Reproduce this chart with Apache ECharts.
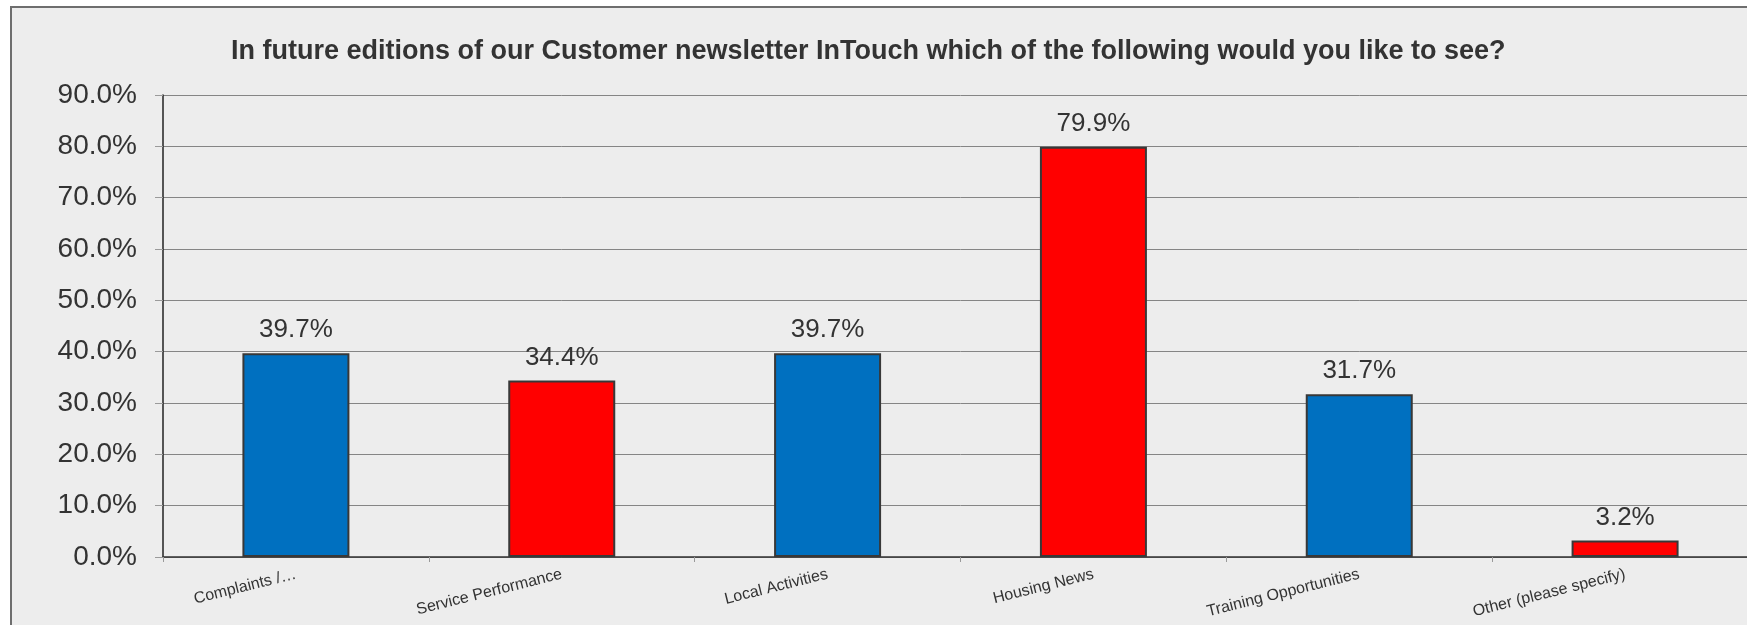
<!DOCTYPE html>
<html>
<head>
<meta charset="utf-8">
<title>InTouch newsletter survey</title>
<script src="https://cdn.jsdelivr.net/npm/echarts@6/dist/echarts.min.js"></script>
<style>
  html, body { margin: 0; padding: 0; background: #ffffff; overflow: hidden; }
  /* the plot area runs slightly past the right edge of the window */
  #chart { width: 1762px; height: 625px; }
</style>
</head>
<body>
<div id="chart"></div>
<script>
// Survey answers: share of respondents choosing each topic
const categories = [
  'Complaints /\u2026',
  'Service Performance',
  'Local Activities',
  'Housing News',
  'Training Opportunities',
  'Other (please specify)'
];
const percentages = [39.7, 34.4, 39.7, 79.9, 31.7, 3.2];
const barColors = ['#0070C0', '#FF0000', '#0070C0', '#FF0000', '#0070C0', '#FF0000'];
const yTicks = { min: 0, max: 90, step: 10 };
const titleText = 'In future editions of our Customer newsletter InTouch which of the following would you like to see?';

const FONT = '"Liberation Sans", Arial, Helvetica, sans-serif';
const TEXT = '#333333';

const chart = echarts.init(document.getElementById('chart'), null, { renderer: 'canvas' });

chart.setOption({
  animation: false,
  backgroundColor: '#ffffff',
  graphic: [{
    type: 'rect',
    left: 10, top: 6,
    shape: { width: 1800, height: 700 },
    style: { fill: '#EDEDED', stroke: '#6e6e6e', lineWidth: 2 },
    z: -10,
    silent: true
  }],
  title: {
    text: titleText,
    left: 226,
    top: 33,
    textStyle: { fontFamily: FONT, fontSize: 27, fontWeight: 'bold', color: TEXT }
  },
  grid: { left: 163, top: 95, height: 462, width: 1595, containLabel: false },
  xAxis: {
    type: 'category',
    data: categories,
    axisLine: { lineStyle: { color: '#333333', width: 1.5 } },
    axisTick: { show: true, alignWithLabel: false, length: 5, lineStyle: { color: '#9a9a9a' } },
    axisLabel: {
      rotate: 14,
      margin: 17,
      interval: 0,
      fontFamily: FONT,
      fontSize: 16,
      color: TEXT
    }
  },
  yAxis: {
    type: 'value',
    min: yTicks.min,
    max: yTicks.max,
    interval: yTicks.step,
    axisLine: { show: true, lineStyle: { color: '#222222', width: 1.5 } },
    axisTick: { show: true, length: 8, lineStyle: { color: '#9a9a9a' } },
    splitLine: { show: true, lineStyle: { color: '#858585', width: 1 } },
    axisLabel: {
      margin: 26,
      fontFamily: FONT,
      fontSize: 28,
      color: TEXT,
      formatter: v => v.toFixed(1) + '%'
    }
  },
  series: [{
    type: 'bar',
    barWidth: 107,
    data: percentages.map((v, i) => ({
      value: v,
      itemStyle: { color: barColors[i] }
    })),
    itemStyle: { borderColor: '#383838', borderWidth: 2 },
    label: {
      show: true,
      position: 'top',
      distance: 10,
      fontFamily: FONT,
      fontSize: 26,
      color: TEXT,
      formatter: p => p.value.toFixed(1) + '%'
    }
  }]
});
</script>
</body>
</html>
